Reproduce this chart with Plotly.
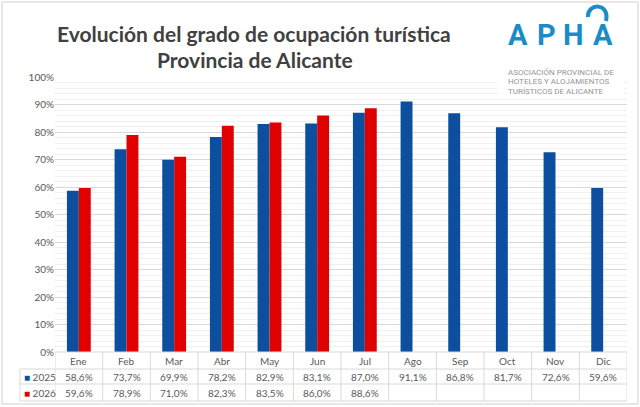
import plotly.graph_objects as go

# datos (grado de ocupacion, %)
meses = ['Ene', 'Feb', 'Mar', 'Abr', 'May', 'Jun', 'Jul', 'Ago', 'Sep', 'Oct', 'Nov', 'Dic']
ocup_2025 = [58.6, 73.7, 69.9, 78.2, 82.9, 83.1, 87.0, 91.1, 86.8, 81.7, 72.6, 59.6]
ocup_2026 = [59.6, 78.9, 71.0, 82.3, 83.5, 86.0, 88.6, None, None, None, None, None]
series = ['2025', '2026']
colores = ['#0b4f9e', '#e00000']

W, H = 640, 407
def xp(px):
    return px / W
def yp(py):
    return 1 - py / H

def fmt(v):
    return '' if v is None else f"{v:.1f}%".replace('.', ',')

fig = go.Figure()
for name, vals, col in zip(series, [ocup_2025, ocup_2026], colores):
    fig.add_trace(go.Bar(x=meses, y=vals, name=name, marker_color=col,
                         marker_line_width=0, showlegend=False))

grey = '#595959'
font = 'Lato'
fig.update_layout(
    template='none',
    width=W, height=H,
    margin=dict(l=0, r=0, t=0, b=0, pad=0, autoexpand=False),
    paper_bgcolor='white', plot_bgcolor='white',
    barmode='group', bargap=0.5, bargroupgap=0,
    font=dict(family=font, size=10, color=grey),
    xaxis=dict(domain=[xp(55), xp(627)], range=[-0.5, 11.5], automargin=False,
               showticklabels=False, showgrid=False, zeroline=False, showline=False, ticks=''),
    yaxis=dict(domain=[yp(352), yp(77)], range=[0, 100], dtick=10, automargin=False,
               ticksuffix='%', showgrid=True, gridcolor='#d9d9d9', gridwidth=1,
               zeroline=False, showline=False, ticks='', tickfont=dict(size=10, color=grey),
               minor=dict(dtick=2, showgrid=True, gridcolor='#f0f0f0', gridwidth=1)),
)

line_col = '#d9d9d9'
shapes = []
# rejilla de la tabla
for py, x0 in [(352, 55), (369, 20), (384, 20), (401, 20)]:
    shapes.append(dict(type='line', xref='paper', yref='paper', x0=xp(x0), x1=xp(627),
                       y0=yp(py), y1=yp(py), line=dict(color=line_col, width=1)))
shapes.append(dict(type='line', xref='paper', yref='paper', x0=xp(20), x1=xp(20),
                   y0=yp(369), y1=yp(401), line=dict(color=line_col, width=1)))
for i in range(len(meses) + 1):
    shapes.append(dict(type='line', xref='x', yref='paper', x0=i - 0.5, x1=i - 0.5,
                       y0=yp(352), y1=yp(401), line=dict(color=line_col, width=1)))
# marco exterior
shapes.append(dict(type='rect', xref='paper', yref='paper', x0=xp(2), x1=xp(638),
                   y0=yp(404), y1=yp(2), line=dict(color='#cfcfcf', width=1)))
# fondo blanco del logo
shapes.append(dict(type='rect', xref='paper', yref='paper', x0=xp(497), x1=xp(624),
                   y0=yp(97), y1=yp(4), fillcolor='white', line=dict(width=0), layer='above'))
# gancho de la A
logo_col = '#1a8cc8'
shapes.append(dict(type='path', xref='paper', yref='paper', layer='above',
                   path=f"M {xp(588)},{yp(17)} C {xp(587)},{yp(3)} {xp(610)},{yp(2)} {xp(606)},{yp(21)}",
                   line=dict(color=logo_col, width=4)))
fig.update_layout(shapes=shapes)

def txt(x, y, text, size, color=grey, xref='paper', xanchor='center', family=font):
    return dict(x=x, y=yp(y), xref=xref, yref='paper', text=text, showarrow=False,
                xanchor=xanchor, yanchor='middle', font=dict(family=family, size=size, color=color))

ann = []
for i, m in enumerate(meses):
    ann.append(txt(i, 361, m, 10, xref='x'))
for r, (name, vals, col) in enumerate(zip(series, [ocup_2025, ocup_2026], colores)):
    py = 377 + r * 15.5
    for i, v in enumerate(vals):
        ann.append(txt(i, py, fmt(v), 10, xref='x'))
    ann.append(txt(xp(22), py, f"<span style='color:{col}'>■</span> {name}", 10, xanchor='left'))

# titulo
ann.append(txt(xp(254), 33, '<b>Evolución del grado de ocupación turística</b>', 21, '#404040'))
ann.append(txt(xp(255), 59, '<b>Provincia de Alicante</b>', 21, '#404040'))
# logo
for letra, px in zip('APHA', [518, 546, 573, 603]):
    ann.append(txt(xp(px), 35, f'<b>{letra}</b>', 29, logo_col, family='Roboto'))
for j, t in enumerate(['ASOCIACIÓN PROVINCIAL DE', 'HOTELES Y ALOJAMIENTOS',
                       'TURÍSTICOS DE ALICANTE']):
    ann.append(txt(xp(506), 72 + j * 9.5, t, 8, '#959595', xanchor='left', family='Roboto'))
fig.update_layout(annotations=ann)

# sin margen del body para que la figura ocupe la ventana
fig.write_html("out.html", config={'displayModeBar': False},
               post_script="document.body.style.margin='0';")
